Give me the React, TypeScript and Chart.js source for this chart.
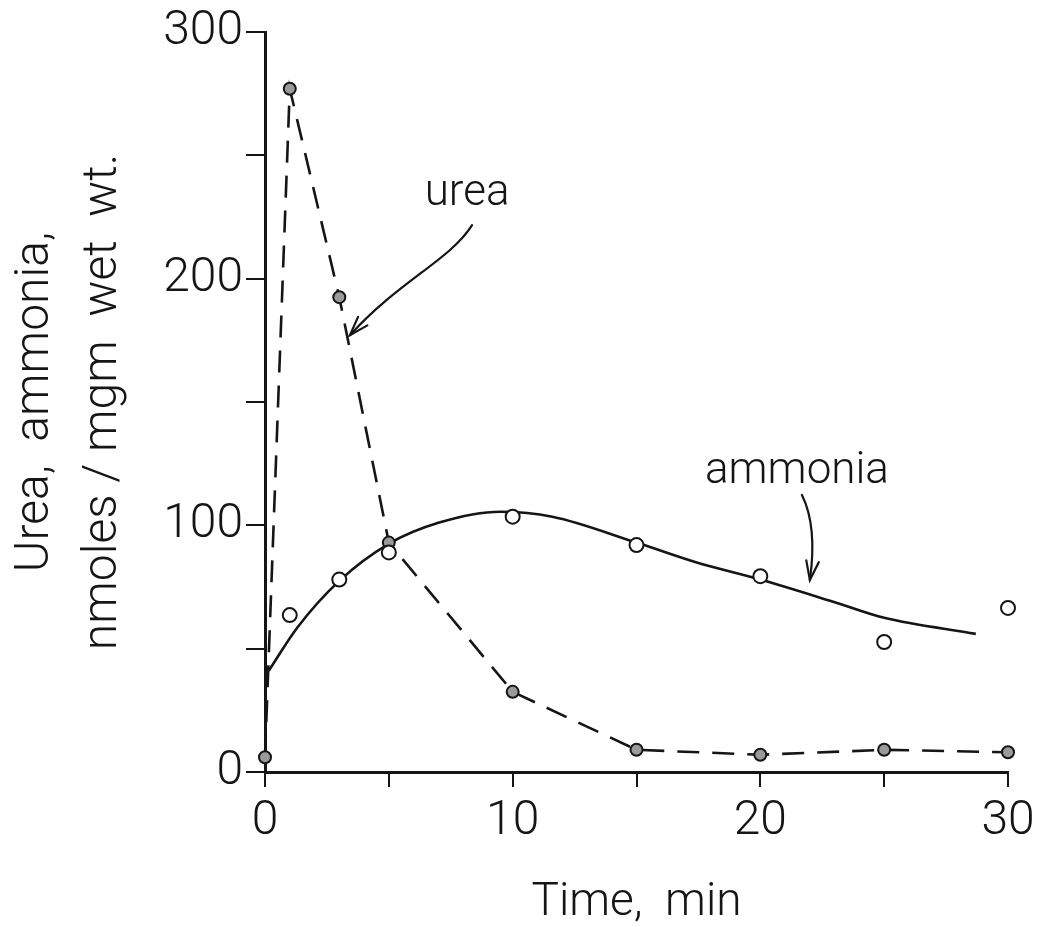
import React, { useEffect, useRef } from "react";
import { Chart, registerables } from "chart.js";

Chart.register(...registerables);

// ---- data ----
const ureaTimes = [0, 1, 3, 5, 10, 15, 20, 25, 30];
const ureaValues = [6, 277, 192.5, 93, 32.5, 9, 7, 9, 8];

const ammoniaTimes = [1, 3, 5, 10, 15, 20, 25, 30];
const ammoniaValues = [63.6, 78, 89, 103.5, 92, 79.4, 52.7, 66.5];

const ammoniaCurveTimes = [0.15, 1.3, 3, 5, 7, 9.5, 11.6, 15, 17.4, 20, 23.1, 25, 28.7];
const ammoniaCurveValues = [41, 58.5, 77.5, 92.5, 101, 105.5, 103.5, 93, 85, 78, 68.5, 62.5, 56];

const xLabelValues = [0, 10, 20, 30];
const yLabelValues = [0, 100, 200, 300];

const xTitle = "Time,  min";
const yTitle = ["Urea,  ammonia,", "nmoles / mgm  wet  wt."];

// ---- annotations (in data units) ----
const annotationTexts = [
  { text: "urea", t: 8.16, v: 229.8 },
  { text: "ammonia", t: 21.48, v: 117.1 },
];
const annotationArrows = [
  [
    [8.36, 221.7],
    [7.47, 207.5],
    [5.45, 199.4],
    [3.43, 177.1],
  ],
  [
    [21.68, 112.3],
    [22.08, 104.2],
    [22.2, 92.0],
    [22.0, 77.8],
  ],
];

const INK = "#151515";
const FONT = "Roboto, 'DejaVu Sans', sans-serif";

const annotationPlugin = {
  id: "annotations",
  afterDatasetsDraw(chart: any) {
    const { ctx, scales } = chart;
    const xs = scales.x;
    const ys = scales.y;
    ctx.save();
    ctx.fillStyle = INK;
    ctx.strokeStyle = INK;
    ctx.font = `300 44px ${FONT}`;
    ctx.textAlign = "center";
    ctx.textBaseline = "alphabetic";
    for (const a of annotationTexts) {
      ctx.fillText(a.text, xs.getPixelForValue(a.t), ys.getPixelForValue(a.v));
    }
    ctx.lineWidth = 2.2;
    ctx.lineCap = "round";
    for (const arr of annotationArrows) {
      const p = arr.map(([t, v]) => [xs.getPixelForValue(t), ys.getPixelForValue(v)]);
      ctx.beginPath();
      ctx.moveTo(p[0][0], p[0][1]);
      ctx.bezierCurveTo(p[1][0], p[1][1], p[2][0], p[2][1], p[3][0], p[3][1]);
      ctx.stroke();
      const ang = Math.atan2(p[3][1] - p[2][1], p[3][0] - p[2][0]);
      const len = 20;
      const spread = 0.32;
      ctx.beginPath();
      ctx.moveTo(p[3][0] - len * Math.cos(ang - spread), p[3][1] - len * Math.sin(ang - spread));
      ctx.lineTo(p[3][0], p[3][1]);
      ctx.lineTo(p[3][0] - len * Math.cos(ang + spread), p[3][1] - len * Math.sin(ang + spread));
      ctx.stroke();
    }
    ctx.restore();
  },
};

export default function App() {
  const canvasRef = useRef<HTMLCanvasElement | null>(null);

  useEffect(() => {
    if (!canvasRef.current) return;
    const chart = new Chart(canvasRef.current, {
      type: "scatter",
      data: {
        datasets: [
          {
            label: "ammonia fit",
            data: ammoniaCurveTimes.map((t, i) => ({ x: t, y: ammoniaCurveValues[i] })),
            showLine: true,
            borderColor: INK,
            borderWidth: 2.6,
            pointRadius: 0,
            cubicInterpolationMode: "monotone",
            fill: false,
            clip: false,
            order: 3,
          } as any,
          {
            label: "urea",
            data: ureaTimes.map((t, i) => ({ x: t, y: ureaValues[i] })),
            showLine: true,
            borderColor: INK,
            borderWidth: 2.6,
            borderDash: [22, 13],
            tension: 0,
            pointRadius: 6,
            pointBackgroundColor: "#9a9a9a",
            pointBorderColor: INK,
            pointBorderWidth: 2,
            clip: false,
            order: 2,
          } as any,
          {
            label: "ammonia",
            data: ammoniaTimes.map((t, i) => ({ x: t, y: ammoniaValues[i] })),
            showLine: false,
            pointRadius: 7,
            pointBackgroundColor: "#ffffff",
            pointBorderColor: INK,
            pointBorderWidth: 2,
            clip: false,
            order: 1,
          } as any,
        ],
      },
      options: {
        responsive: false,
        animation: false,
        devicePixelRatio: 1,
        layout: { padding: { left: 0, top: 32, right: 37, bottom: 0 } },
        plugins: {
          legend: { display: false },
          tooltip: { enabled: false },
        },
        scales: {
          x: {
            type: "linear",
            min: 0,
            max: 30,
            afterFit: (s: any) => {
              s.height = 155;
            },
            ticks: {
              stepSize: 5,
              padding: 6,
              color: INK,
              font: { family: FONT, size: 48, weight: "300" as any },
              callback: (v: any) => (xLabelValues.includes(Number(v)) ? String(v) : ""),
              maxRotation: 0,
              autoSkip: false,
            },
            grid: {
              display: true,
              drawOnChartArea: false,
              drawTicks: true,
              tickLength: 15,
              color: INK,
              lineWidth: 2,
            },
            border: { display: true, color: INK, width: 3 },
            title: {
              display: true,
              text: xTitle,
              color: INK,
              font: { family: FONT, size: 46, weight: "300" as any, lineHeight: 1.0 },
              padding: { top: 0, bottom: 1 },
            },
          },
          y: {
            type: "linear",
            min: 0,
            max: 300,
            afterFit: (s: any) => {
              s.width = 265;
            },
            ticks: {
              stepSize: 50,
              padding: 3,
              color: INK,
              font: { family: FONT, size: 48, weight: "300" as any },
              callback: (v: any) => (yLabelValues.includes(Number(v)) ? String(v) : ""),
              autoSkip: false,
            },
            grid: {
              display: true,
              drawOnChartArea: false,
              drawTicks: true,
              tickLength: 19,
              color: INK,
              lineWidth: 2,
            },
            border: { display: true, color: INK, width: 3 },
            title: {
              display: true,
              text: yTitle,
              color: INK,
              font: { family: FONT, size: 48, weight: "300" as any, lineHeight: 1.42 },
              padding: { top: 2, bottom: 0 },
            },
          },
        },
      } as any,
      plugins: [annotationPlugin],
    });
    return () => chart.destroy();
  }, []);

  return (
    <div style={{ position: "fixed", left: 0, top: 0, width: 1045, height: 927, background: "#ffffff" }}>
      <canvas ref={canvasRef} width={1045} height={927} style={{ display: "block" }} />
    </div>
  );
}
